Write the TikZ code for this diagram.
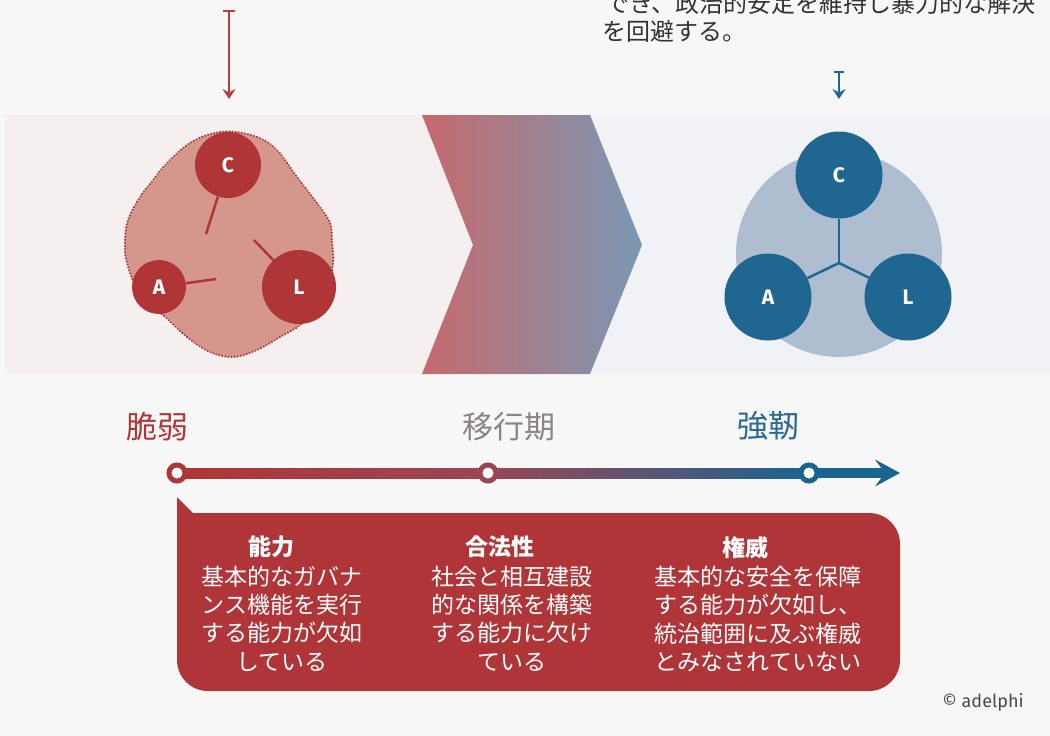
\documentclass[tikz,border=0pt]{standalone}
\usepackage{fontspec}
\setmainfont{Fira Sans}
\newfontfamily\jp{Noto Sans CJK JP}
\usetikzlibrary{arrows.meta,calc}
\definecolor{bg}{HTML}{F7F7F7}
\definecolor{pinkband}{HTML}{F5EFEF}
\definecolor{blueband}{HTML}{F0F2F5}
\definecolor{dred}{HTML}{B03537}
\definecolor{blobfill}{HTML}{D5978B}
\definecolor{dblue}{HTML}{1F6790}
\definecolor{lblue}{HTML}{AFBDD1}
\definecolor{chevL}{HTML}{C6696D}
\definecolor{chevR}{HTML}{7A98B3}
\definecolor{arrred}{HTML}{C0393B}
\definecolor{mauve}{HTML}{9A4655}
\definecolor{midblue}{HTML}{5A5273}
\definecolor{lineblue}{HTML}{1A6490}
\definecolor{graytxt}{HTML}{8B8588}
\definecolor{bluetxt}{HTML}{2A6B93}
\definecolor{boxred}{HTML}{B03538}
\definecolor{toptxt}{HTML}{333333}
\definecolor{copytxt}{HTML}{4A4A4A}
\begin{document}
\begin{tikzpicture}[x=1pt,y=-1pt,
  circ/.style={circle, inner sep=0pt, text=white, font=\fontsize{21}{21}\selectfont\bfseries},
  redc/.style={circ, fill=dred},
  bluec/.style={circ, fill=dblue},
  redlink/.style={draw=dred, line width=2.5pt},
  bluelink/.style={draw=dblue, line width=2.5pt},
  ring/.style={circle, fill=white, line width=5pt, minimum size=16pt, inner sep=0pt},
  lbl/.style={font=\jp\fontsize{31}{31}\selectfont, inner sep=0pt},
  boxtxt/.style={align=center, text=white, inner sep=0pt, font=\jp\fontsize{23}{28.3}\selectfont},
  boxttl/.style={text=white, inner sep=0pt, font=\jp\bfseries\fontsize{23}{28}\selectfont},
  toptext/.style={anchor=west, inner sep=0pt, text=toptxt, font=\jp\fontsize{24}{24}\selectfont}
]
\useasboundingbox (0,0) rectangle (1050,736);
\clip (0,0) rectangle (1050,736);
\fill[bg] (0,0) rectangle (1050,736);
% band
\fill[pinkband] (5,115) rectangle (506,374);
\fill[blueband] (506,115) rectangle (1050,374);
% chevron
\shade[left color=chevL, right color=chevR] (422,115) -- (590,115) -- (642,245) -- (590,374) -- (422,374) -- (473,245) -- cycle;

% top text (partly cut by the picture's top edge, as in the reference)
\node[toptext] (top1) at (605,3) {でき、政治的安定を維持し暴力的な解決};
\node[toptext] (top2) at (602,31.5) {を回避する。};

% top arrows
\coordinate (ra1) at (229,10);
\coordinate (ra2) at (229,99);
\draw[arrred, line width=2pt, {Bar[width=12pt]}-{Stealth[length=10pt,width=13pt,inset=3.5pt]}] (ra1) -- (ra2);
\coordinate (ba1) at (839,71);
\coordinate (ba2) at (839,99);
\draw[dblue, line width=2pt, {Bar[width=10pt]}-{Stealth[length=10pt,width=13pt,inset=3.5pt]}] (ba1) -- (ba2);

% fragile blob
\fill[blobfill] plot[smooth cycle, tension=0.6] coordinates {(230,131.5) (257,137) (277,150) (297,177) (317,203) (330,223) (332,243) (333,263) (325,300) (300,325) (280,337) (257,350) (233,357) (210,352) (187,337) (163,315) (140,295) (127,263) (125,243) (128,220) (140,197) (153,180) (167,163) (187,145) (207,135)};
\draw[dred, line width=2.3pt, dash pattern=on 0.01pt off 3.1pt, line cap=round] plot[smooth cycle, tension=0.6] coordinates {(230,131.5) (257,137) (277,150) (297,177) (317,203) (330,223) (332,243) (333,263) (325,300) (300,325) (280,337) (257,350) (233,357) (210,352) (187,337) (163,315) (140,295) (127,263) (125,243) (128,220) (140,197) (153,180) (167,163) (187,145) (207,135)};

\node[redc, minimum size=66pt] (lC) at (228,165) {C};
\node[redc, minimum size=54pt] (lA) at (159,287) {A};
\node[redc, minimum size=74pt] (lL) at (299,287) {L};
\coordinate (lCe) at (206,234);
\coordinate (lAe) at (216,279);
\coordinate (lLe) at (254,240);
\draw[redlink] (lC) -- (lCe);
\draw[redlink] (lA) -- (lAe);
\draw[redlink] (lL) -- (lLe);

% resilient
\node[circle, fill=lblue, minimum size=206pt, inner sep=0pt] (rBig) at (839,254) {};
\coordinate (J) at (839,263);
\node[bluec, minimum size=87pt] (rC) at (839,175) {C};
\node[bluec, minimum size=87pt] (rA) at (768,297) {A};
\node[bluec, minimum size=87pt] (rL) at (908,297) {L};
\draw[bluelink] (rC) -- (J);
\draw[bluelink] (rA) -- (J);
\draw[bluelink] (rL) -- (J);

% stage labels
\node[lbl, text=dred] (s1) at (157,427) {脆弱};
\node[lbl, text=graytxt] (s2) at (509,427) {移行期};
\node[lbl, text=bluetxt] (s3) at (768,426) {強靭};

% timeline
\coordinate (p1) at (177,473);
\coordinate (p2) at (488,473);
\coordinate (p3) at (809,473);
\coordinate (pe) at (900,473);
\fill[left color=dred, right color=mauve] ($(p1)+(0,-5)$) rectangle ($(p2)+(0,5)$);
\fill[left color=mauve, middle color=midblue, right color=lineblue] ($(p2)+(-0.5,-5)$) rectangle ($(p3)+(0,5)$);
\fill[lineblue] ($(p3)+(-0.5,-5)$) rectangle ($(pe)+(-14,5)$);
\fill[lineblue] (875,459.5) -- (pe) -- (875,486.5) -- (885,473) -- cycle;
\node[ring, draw=dred] (t1) at (p1) {};
\node[ring, draw=mauve] (t2) at (p2) {};
\node[ring, draw=lineblue] (t3) at (p3) {};

% red box
\fill[boxred, rounded corners=31pt] (177,513) rectangle (900,691);
\fill[boxred] (177,513) rectangle (230,560);
\fill[boxred] (177,497) -- (194,514) -- (177,514) -- cycle;

\node[boxttl] (h1) at (271,547) {能力};
\node[boxtxt] (d1) at (282,618.5) {基本的なガバナ\\ンス機能を実行\\する能力が欠如\\している};
\node[boxttl] (h2) at (500,547) {合法性};
\node[boxtxt] (d2) at (512,618.5) {社会と相互建設\\的な関係を構築\\する能力に欠け\\ている};
\node[boxttl] (h3) at (745,548) {権威};
\node[boxtxt] (d3) at (758,619) {基本的な安全を保障\\する能力が欠如し、\\統治範囲に及ぶ権威\\とみなされていない};

% copyright
\node[inner sep=0pt, text=copytxt, font=\fontsize{18}{18}\selectfont] (cr) at (983,702) {© adelphi};
\end{tikzpicture}
\end{document}
